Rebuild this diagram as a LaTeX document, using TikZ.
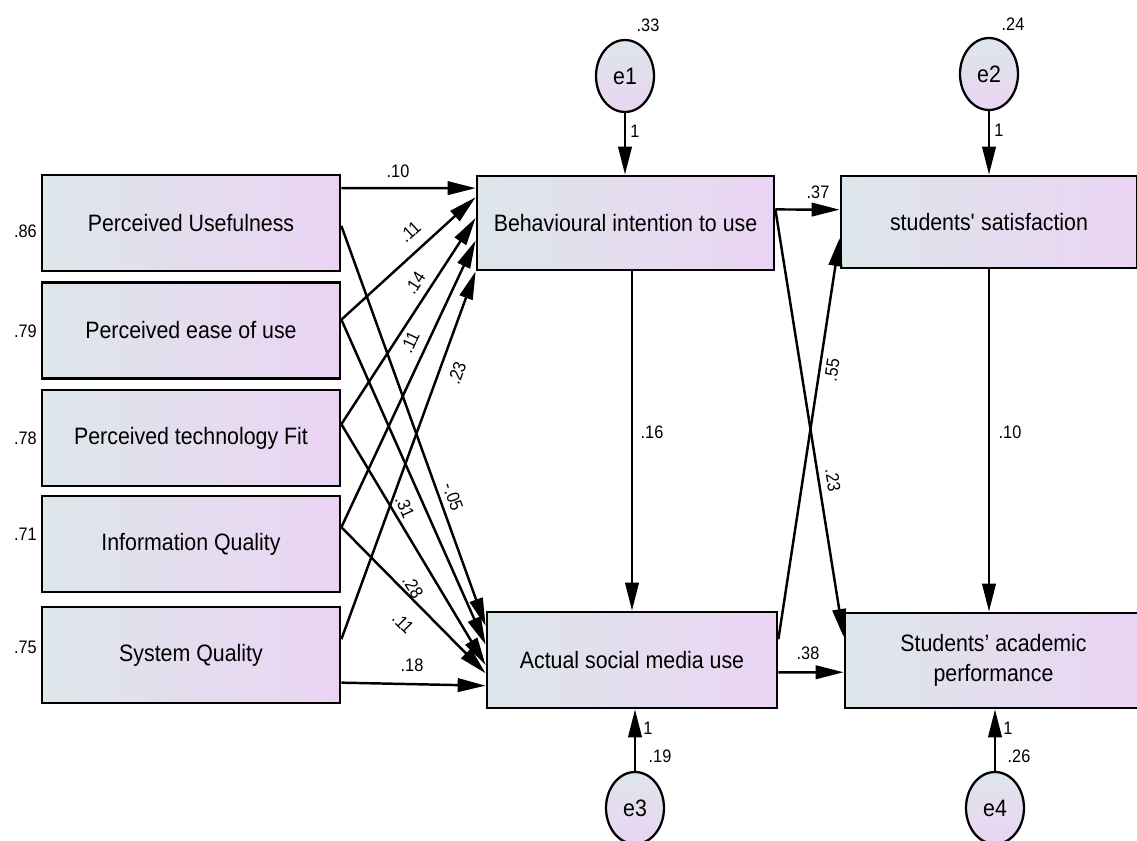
\documentclass[tikz,border=0pt]{standalone}
\usepackage{fontspec}
\setmainfont{Liberation Sans}[FakeStretch=0.9]
\usetikzlibrary{arrows.meta,calc,shapes.geometric}
\definecolor{gl}{RGB}{221,230,234}
\definecolor{gr}{RGB}{235,212,243}
\begin{document}
\begin{tikzpicture}[x=0.02cm,y=-0.02cm,
  box/.style={draw=black, line width=1.6pt, left color=gl, right color=gr,
    minimum width=5.96cm, minimum height=1.92cm, inner sep=0pt,
    font=\fontsize{13.5}{17}\selectfont, align=center},
  err/.style={ellipse, draw=black, line width=1.3pt, top color=gl, bottom color=gr,
    minimum width=1.16cm, minimum height=1.44cm, inner sep=0pt,
    font=\fontsize{13.5}{15}\selectfont},
  arr/.style={line width=1.4pt, -{Triangle[length=0.56cm,width=0.27cm]}},
  lab/.style={font=\fontsize{10.3}{12}\selectfont, inner sep=0pt}
]
\useasboundingbox (0,0) rectangle (1137,841);
\clip (0,0) rectangle (1137,841);

% exogenous boxes
\node[box] (pu)   at (191,223)   {Perceived Usefulness};
\node[box] (peou) at (191,330.5) {Perceived ease of use};
\node[box] (ptf)  at (191,438)   {Perceived technology Fit};
\node[box] (iq)   at (191,544)   {Information Quality};
\node[box] (sq)   at (191,655)   {System Quality};

% endogenous boxes
\node[box, minimum width=5.94cm, minimum height=1.88cm] (bi) at (625.5,223) {Behavioural intention to use};
\node[box, minimum width=5.8cm] (asmu) at (632,660) {Actual social media use};
\node[box, minimum width=5.92cm, minimum height=1.84cm] (ss) at (989,222) {students\textquotesingle\ satisfaction};
\node[box, minimum width=5.94cm, minimum height=1.9cm] (sap) at (993.5,660.5) {Students’ academic\\performance};

% error terms
\node[err] (e1) at (625,76) {e1};
\node[err] (e2) at (989,74) {e2};
\node[err] (e3) at (635,808) {e3};
\node[err] (e4) at (995,808) {e4};

% residual / variance labels
\node[lab, anchor=east] (r1) at (37,231) {.86};
\node[lab, anchor=east] (r2) at (37,331) {.79};
\node[lab, anchor=east] (r3) at (37,438) {.78};
\node[lab, anchor=east] (r4) at (37,534) {.71};
\node[lab, anchor=east] (r5) at (37,647) {.75};
\node[lab] (v1) at (648,25) {.33};
\node[lab] (v2) at (1013,24) {.24};
\node[lab] (v3) at (660,756) {.19};
\node[lab] (v4) at (1019,756) {.26};

% attachment points
\coordinate (pu-b)  at ($(pu.north east)!0.146!(pu.south east)$);
\coordinate (pu-a)  at ($(pu.north east)!0.53!(pu.south east)$);
\coordinate (peou-o) at ($(peou.north east)!0.39!(peou.south east)$);
\coordinate (ptf-o) at ($(ptf.north east)!0.36!(ptf.south east)$);
\coordinate (iq-o)  at ($(iq.north east)!0.33!(iq.south east)$);
\coordinate (sq-b)  at ($(sq.north east)!0.34!(sq.south east)$);
\coordinate (sq-a)  at ($(sq.north east)!0.78!(sq.south east)$);

\coordinate (bi-i1) at ($(bi.north west)!0.14!(bi.south west)$);
\coordinate (bi-i2) at ($(bi.north west)!0.234!(bi.south west)$);
\coordinate (bi-i3) at ($(bi.north west)!0.447!(bi.south west)$);
\coordinate (bi-i4) at ($(bi.north west)!0.68!(bi.south west)$);
\coordinate (bi-i5) at (bi.south west);

\coordinate (as-i1) at ($(asmu.north west)!0.156!(asmu.south west)$);
\coordinate (as-i2) at ($(asmu.north west)!0.344!(asmu.south west)$);
\coordinate (as-i3) at ($(asmu.north west)!0.552!(asmu.south west)$);
\coordinate (as-i4) at ($(asmu.north west)!0.635!(asmu.south west)$);
\coordinate (as-i5) at ($(asmu.north west)!0.76!(asmu.south west)$);

\coordinate (bi-o)  at ($(bi.north east)!0.36!(bi.south east)$);
\coordinate (as-o1) at ($(asmu.north east)!0.29!(asmu.south east)$);
\coordinate (as-o2) at ($(asmu.north east)!0.625!(asmu.south east)$);
\coordinate (ss-i1) at ($(ss.north west)!0.37!(ss.south west)$);
\coordinate (ss-i2) at ($(ss.north west)!0.67!(ss.south west)$);
\coordinate (sap-i1) at ($(sap.north west)!0.26!(sap.south west)$);
\coordinate (sap-i2) at ($(sap.north west)!0.62!(sap.south west)$);

% paths to BI
\draw[arr] (pu-b) -- (bi-i1);
\draw[arr] (peou-o) -- (bi-i2);
\draw[arr] (ptf-o) -- (bi-i3);
\draw[arr] (iq-o) -- (bi-i4);
\draw[arr] (sq-b) -- (bi-i5);
% paths to ASMU
\draw[arr] (pu-a) -- (as-i1);
\draw[arr] (peou-o) -- (as-i2);
\draw[arr] (ptf-o) -- (as-i3);
\draw[arr] (iq-o) -- (as-i4);
\draw[arr] (sq-a) -- (as-i5);
% right part
\draw[arr] (bi-o) -- (ss-i1);
\draw[arr] (bi-o) -- (sap-i1);
\draw[arr] (as-o1) -- (ss-i2);
\draw[arr] (as-o2) -- (sap-i2);
\draw[arr] (asmu.north |- bi.south) -- (asmu.north);
\draw[arr] (ss.south) -- (ss.south |- sap.north);
% error arrows
\draw[arr] (e1.south) -- (e1.south |- bi.north);
\draw[arr] (e2.south) -- (e2.south |- ss.north);
\draw[arr] (e3.north) -- (e3.north |- asmu.south);
\draw[arr] (e4.north) -- (e4.north |- sap.south);

% path coefficients
\node[lab] at (398,171) {.10};
\node[lab, rotate=42] at (410,232) {.11};
\node[lab, rotate=57] at (415,283) {.14};
\node[lab, rotate=65] at (410,342) {.11};
\node[lab, rotate=70] at (457,373) {.23};
\node[lab, rotate=-70] at (453,497) {-.05};
\node[lab, rotate=-66] at (405,507) {.31};
\node[lab, rotate=-58] at (413,587) {.28};
\node[lab, rotate=-45] at (403,623) {.11};
\node[lab] at (412,665) {.18};
\node[lab] at (818,192) {.37};
\node[lab, rotate=81] at (832,370) {.55};
\node[lab, rotate=-81] at (833,480) {.23};
\node[lab] at (808,653) {.38};
\node[lab] at (652,432) {.16};
\node[lab] at (1010,432) {.10};
\node[lab] at (635,131) {1};
\node[lab] at (999,130) {1};
\node[lab] at (648,728) {1};
\node[lab] at (1008,728) {1};
\end{tikzpicture}
\end{document}
